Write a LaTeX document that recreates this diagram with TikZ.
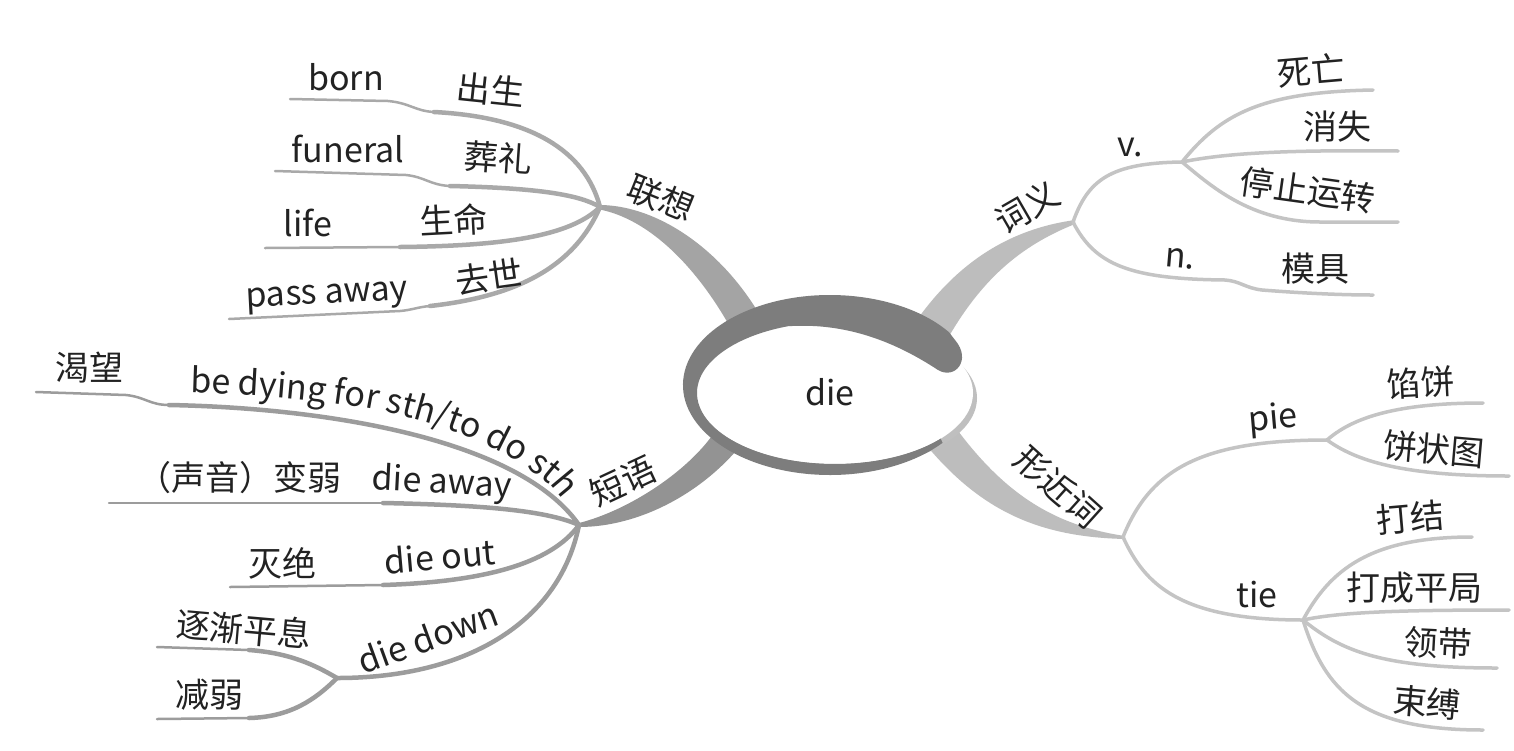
\documentclass[tikz,border=0pt]{standalone}
\usepackage{fontspec}
\setmainfont{Noto Sans CJK SC}
\usetikzlibrary{decorations.text}
\definecolor{ringc}{HTML}{7D7D7D}
\definecolor{brA}{HTML}{A4A4A4}
\definecolor{brB}{HTML}{939393}
\definecolor{brC}{HTML}{BDBDBD}
\definecolor{subL}{HTML}{A9A9A9}
\definecolor{subB}{HTML}{9C9C9C}
\definecolor{subR}{HTML}{C4C4C4}
\definecolor{txt}{HTML}{222222}
\begin{document}
\begin{tikzpicture}[x=1pt,y=-1pt,
  lbl/.style={font=\fontsize{34}{40}\selectfont, inner sep=0pt, text=txt},
  thinA/.style={draw=subL, line width=2.5, line cap=round},
  thickA/.style={draw=subL, line width=4.5, line cap=round},
  thinB/.style={draw=subB, line width=2.5, line cap=round},
  thickB/.style={draw=subB, line width=4.5, line cap=round},
  subRl/.style={draw=subR, line width=3.5, line cap=round}]
\useasboundingbox (0,0) rectangle (1514,750);
\fill[white] (0,0) rectangle (1514,750);

% hubs
\coordinate (H1) at (600,207);
\coordinate (H2) at (579,525);
\coordinate (H3) at (1073,222);
\coordinate (H4) at (1123,537);
\coordinate (S1) at (337,678);
\coordinate (S2) at (1182,162);
\coordinate (S3) at (1327,440);
\coordinate (S4) at (1303,620);

% main tapered branches
\fill[brA] (597,205) .. controls (660,204) and (730,255) .. (768,330) -- (735,336) .. controls (700,270) and (650,218) .. (597,209) -- cycle;
\fill[brB] (579,523) .. controls (630,510) and (690,470) .. (716,430) -- (745,440) .. controls (705,492) and (640,527) .. (579,527) -- cycle;
\fill[brC] (1075,220) .. controls (1010,229) and (955,262) .. (910,330) -- (944,345) .. controls (980,280) and (1020,246) .. (1075,224) -- cycle;
\fill[brC] (1125,536) .. controls (1050,525) and (1000,490) .. (950,420) -- (922,440) .. controls (980,512) and (1040,537) .. (1125,539) -- cycle;

% 联想 sub lines
\draw[thinA] (290,99) -- (388,101) .. controls (410,103) and (415,111) .. (434,112);
\draw[thickA] (434,112) .. controls (530,117) and (585,150) .. (H1);
\draw[thinA] (275,171) -- (406,175) .. controls (425,177) and (430,185) .. (450,186);
\draw[thickA] (450,186) .. controls (540,188) and (580,195) .. (H1);
\draw[thinA] (265,248) -- (400,247);
\draw[thickA] (400,247) .. controls (500,246) and (570,237) .. (H1);
\draw[thinA] (229,319) -- (400,311) .. controls (412,310) and (418,307) .. (430,306);
\draw[thickA] (430,306) .. controls (520,296) and (575,265) .. (H1);

% 短语 sub lines
\draw[thinB] (36,392) -- (126,395) .. controls (145,397) and (150,405) .. (169,405);
\draw[thickB] (169,405) .. controls (330,408) and (520,440) .. (H2);
\draw[thinB] (109,503) -- (383,503);
\draw[thickB] (383,503) .. controls (480,505) and (545,510) .. (H2);
\draw[thinB] (230,587) -- (383,585);
\draw[thickB] (383,585) .. controls (480,582) and (550,565) .. (H2);
\draw[thickB] (H2) .. controls (560,620) and (470,678) .. (S1);
\draw[thinB] (157,647) -- (249,650);
\draw[thickB] (249,650) .. controls (290,653) and (315,665) .. (S1);
\draw[thickB] (S1) .. controls (315,700) and (290,717) .. (249,718);
\draw[thinB] (249,718) -- (157,719);

% 词义 sub lines
\draw[subRl] (H3) .. controls (1088,180) and (1110,163) .. (S2);
\draw[subRl] (S2) .. controls (1220,115) and (1260,92) .. (1373,90);
\draw[subRl] (S2) .. controls (1230,152) and (1300,150) .. (1398,151);
\draw[subRl] (S2) .. controls (1210,185) and (1250,222) .. (1320,222) -- (1398,222);
\draw[subRl] (H3) .. controls (1095,265) and (1130,279) .. (1225,280) .. controls (1240,281) and (1245,288) .. (1262,290) .. controls (1300,293) and (1340,295) .. (1373,295);

% 形近词 sub lines
\draw[subRl] (H4) .. controls (1150,470) and (1200,440) .. (S3);
\draw[subRl] (S3) .. controls (1350,420) and (1390,403) .. (1483,403);
\draw[subRl] (S3) .. controls (1355,460) and (1400,476) .. (1509,476);
\draw[subRl] (H4) .. controls (1145,585) and (1180,620) .. (S4);
\draw[subRl] (S4) .. controls (1330,570) and (1370,537) .. (1472,537);
\draw[subRl] (S4) .. controls (1340,612) and (1400,610) .. (1509,610);
\draw[subRl] (S4) .. controls (1340,650) and (1380,668) .. (1497,668);
\draw[subRl] (S4) .. controls (1325,690) and (1360,730) .. (1483,730);

% central ellipse
\fill[black!25] (839,398) ellipse [x radius=138, y radius=71];
\fill[white] (835,393) ellipse [x radius=138, y radius=71];
\fill[ringc] (948.9,332.1) arc[start angle=-36, end angle=-320, x radius=147, y radius=90]
  -- (940.7,438.6) arc[start angle=-320, end angle=-110, x radius=138, y radius=71]
  .. controls (850,322) and (900,345) .. (938,370)
  .. controls (955,380) and (972,360) .. (955,340) -- cycle;
\node[lbl] (die) at (830,392) {die};

% labels
\node[lbl, rotate=-22] (lx) at (661,198) {联想};
\node[lbl] (born) at (346,77) {born};
\node[lbl, rotate=-6] (csh) at (491,90) {出生};
\node[lbl] (funeral) at (348,149) {funeral};
\node[lbl, rotate=-4] (zl) at (498,158) {葬礼};
\node[lbl] (life) at (308,223) {life};
\node[lbl, rotate=3] (sm) at (454,220) {生命};
\node[lbl, rotate=3] (passaway) at (327,298) {pass away};
\node[lbl, rotate=8] (qs) at (489,277) {去世};

\node[lbl, rotate=25] (dy) at (623,481) {短语};
\node[lbl] (kw) at (89,368) {渴望};
\path[decorate, decoration={text along path, text align=left,
  text={|\fontsize{34}{40}\selectfont\color{txt}|be dying for sth/to do sth}}]
  (190,393) .. controls (330,397) and (470,412) .. (555,490) -- (580,520);
\node[lbl] (sy) at (239,478) {（声音）变弱};
\node[lbl, rotate=-3] (dieaway) at (442,484) {die away};
\node[lbl] (mj) at (282,563) {灭绝};
\node[lbl, rotate=5] (dieout) at (440,556) {die out};
\node[lbl, rotate=20] (diedown) at (428,637) {die down};
\node[lbl, rotate=-5] (zj) at (244,629) {逐渐平息};
\node[lbl] (jr) at (209,695) {减弱};

\node[lbl, rotate=30] (cy) at (1027,207) {词义};
\node[lbl] (v) at (1130,147) {v.};
\node[lbl, rotate=-5] (n) at (1180,259) {n.};
\node[lbl, rotate=5] (sw) at (1311,70) {死亡};
\node[lbl] (xs) at (1337,127) {消失};
\node[lbl, rotate=-8] (tz) at (1308,190) {停止运转};
\node[lbl] (mju) at (1315,269) {模具};

\node[lbl, rotate=-42] (xjc) at (1058,487) {形近词};
\node[lbl, rotate=5] (pie) at (1273,420) {pie};
\node[lbl, rotate=3] (xb) at (1421,383) {馅饼};
\node[lbl, rotate=-5] (bzt) at (1434,449) {饼状图};
\node[lbl] (tie) at (1257,595) {tie};
\node[lbl, rotate=5] (dj) at (1410,518) {打结};
\node[lbl] (dcpj) at (1414,588) {打成平局};
\node[lbl, rotate=-3] (ld) at (1438,643) {领带};
\node[lbl, rotate=-5] (sf) at (1427,703) {束缚};
\end{tikzpicture}
\end{document}
